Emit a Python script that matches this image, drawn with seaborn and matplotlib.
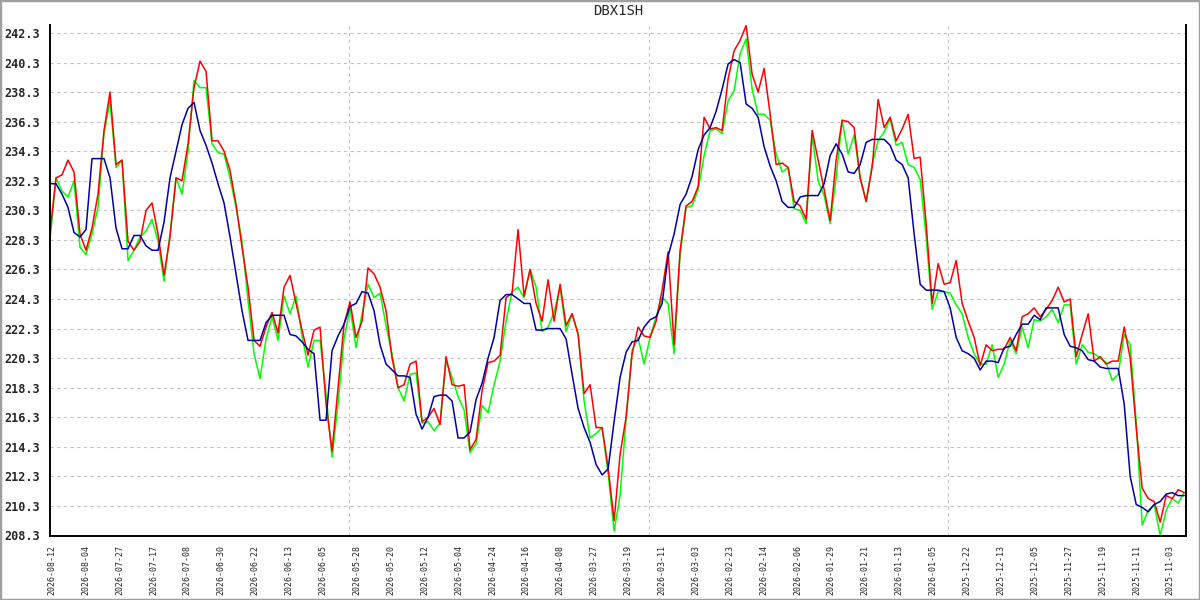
import numpy as np
import pandas as pd
import matplotlib
matplotlib.use('Agg')
import matplotlib.pyplot as plt
import seaborn as sns
from matplotlib.patches import Rectangle

# 图表标题与日期标签（从左到右日期递减）
title = 'DBX1SH'
date_labels = ['2026-08-12', '2026-08-04', '2026-07-27', '2026-07-17', '2026-07-08', '2026-06-30',
               '2026-06-22', '2026-06-13', '2026-06-05', '2026-05-28', '2026-05-20', '2026-05-12',
               '2026-05-04', '2026-04-24', '2026-04-16', '2026-04-08', '2026-03-27', '2026-03-19',
               '2026-03-11', '2026-03-03', '2026-02-23', '2026-02-14', '2026-02-06', '2026-01-29',
               '2026-01-21', '2026-01-13', '2026-01-05', '2025-12-22', '2025-12-13', '2025-12-05',
               '2025-11-27', '2025-11-19', '2025-11-11', '2025-11-03']

# 红线
red_vals = [228.8, 232.5, 232.7, 233.7, 232.9, 228.7, 227.6, 229.1, 231.4, 235.7,
            238.3, 233.4, 233.7, 228.2, 227.6, 228.2, 230.3, 230.8, 228.7, 225.9,
            228.5, 232.5, 232.3, 234.8, 238.6, 240.4, 239.7, 235.0, 235.0, 234.3,
            233.0, 230.7, 227.8, 225.1, 221.5, 221.1, 222.4, 223.4, 222.0, 225.1,
            225.9, 224.0, 222.2, 220.5, 222.2, 222.4, 217.2, 214.0, 218.3, 222.6,
            224.1, 221.7, 222.8, 226.4, 226.0, 225.1, 223.5, 220.3, 218.3, 218.5,
            219.9, 220.1, 216.0, 216.3, 216.9, 215.8, 220.4, 218.5, 218.4, 218.5,
            214.1, 214.8, 218.1, 220.0, 220.1, 220.5, 224.4, 224.7, 229.0, 224.5,
            226.3, 224.0, 222.8, 225.6, 222.8, 225.3, 222.5, 223.3, 221.9, 217.9,
            218.5, 215.6, 215.6, 212.9, 209.3, 213.8, 216.3, 220.6, 222.4, 221.8,
            221.7, 222.8, 224.9, 227.5, 221.2, 227.6, 230.6, 230.9, 231.9, 236.6,
            235.8, 235.9, 235.7, 239.2, 241.1, 241.8, 242.8, 239.5, 238.3, 239.9,
            236.8, 233.4, 233.5, 233.2, 230.9, 230.6, 229.7, 235.7, 233.7, 231.7,
            229.6, 233.7, 236.4, 236.3, 235.9, 232.5, 230.9, 233.2, 237.8, 235.9,
            236.6, 235.0, 235.8, 236.8, 233.8, 233.9, 229.4, 224.0, 226.7, 225.3,
            225.4, 226.9, 224.0, 222.8, 221.7, 219.8, 221.2, 220.8, 220.9, 220.9,
            221.7, 220.8, 223.1, 223.3, 223.7, 223.1, 223.6, 224.2, 225.1, 224.1,
            224.3, 220.4, 221.9, 223.3, 220.1, 220.4, 219.9, 220.1, 220.1, 222.4,
            220.3, 215.6, 211.5, 210.8, 210.6, 209.2, 211.0, 210.8, 211.4, 211.2]

# 绿线
green_vals = [228.3, 232.5, 231.6, 231.2, 232.3, 227.8, 227.3, 228.7, 230.5, 235.5,
              237.7, 233.2, 233.7, 226.9, 227.6, 228.5, 228.9, 229.7, 228.2, 225.5,
              228.7, 232.5, 231.4, 234.3, 239.1, 238.6, 238.6, 234.8, 234.2, 234.1,
              232.5, 230.5, 228.2, 224.2, 220.6, 218.9, 221.6, 223.1, 221.5, 224.5,
              223.3, 224.5, 221.8, 219.7, 221.5, 221.5, 217.9, 213.6, 217.2, 221.6,
              223.7, 221.0, 223.3, 225.3, 224.4, 224.7, 222.5, 220.6, 218.3, 217.4,
              219.2, 219.3, 215.9, 216.0, 215.4, 215.9, 220.1, 219.0, 217.7, 216.8,
              213.9, 214.5, 217.1, 216.6, 218.5, 220.1, 222.8, 224.8, 225.1, 224.4,
              226.3, 225.1, 222.1, 222.4, 223.4, 225.1, 222.1, 223.3, 222.0, 217.4,
              214.9, 215.2, 215.6, 212.5, 208.6, 211.0, 216.2, 220.8, 221.7, 219.9,
              221.7, 223.1, 224.4, 224.0, 220.6, 227.3, 230.5, 230.6, 231.7, 234.0,
              235.7, 235.8, 235.5, 237.7, 238.4, 240.9, 241.9, 238.5, 236.8, 236.8,
              236.4, 234.1, 232.9, 233.2, 230.4, 230.3, 229.4, 235.4, 232.3, 231.3,
              229.4, 232.5, 236.4, 234.1, 235.4, 232.5, 230.9, 233.4, 235.0, 235.6,
              236.5, 234.7, 234.9, 233.4, 233.2, 232.4, 228.5, 223.6, 224.8, 224.8,
              224.7, 223.9, 223.3, 221.7, 220.6, 219.9, 219.9, 221.2, 219.0, 219.9,
              221.5, 220.6, 222.4, 221.0, 222.9, 222.8, 223.1, 223.6, 222.7, 223.9,
              223.9, 219.9, 221.2, 220.7, 220.6, 220.3, 220.0, 218.8, 219.2, 221.9,
              221.2, 216.0, 209.0, 210.0, 210.4, 208.3, 210.0, 210.8, 210.5, 211.2]

# 蓝线
blue_vals = [232.1, 232.1, 231.4, 230.5, 228.8, 228.5, 229.0, 233.8, 233.8, 233.8,
             232.5, 229.1, 227.7, 227.7, 228.6, 228.6, 227.9, 227.6, 227.6, 229.5,
             232.5, 234.3, 236.1, 237.2, 237.6, 235.7, 234.7, 233.5, 232.1, 230.8,
             228.5, 226.0, 223.5, 221.5, 221.5, 221.5, 222.7, 223.2, 223.2, 223.2,
             221.9, 221.8, 221.4, 220.9, 220.6, 216.1, 216.1, 220.8, 221.8, 222.6,
             223.8, 224.0, 224.8, 224.7, 223.5, 221.2, 219.9, 219.5, 219.1, 219.1,
             219.0, 216.5, 215.5, 216.3, 217.7, 217.8, 217.8, 217.4, 214.9, 214.9,
             215.3, 217.5, 218.6, 220.3, 221.7, 224.2, 224.6, 224.6, 224.3, 224.0,
             224.0, 222.2, 222.2, 222.3, 222.3, 222.3, 221.6, 219.2, 216.9, 215.6,
             214.6, 213.1, 212.4, 212.8, 216.0, 219.0, 220.7, 221.4, 221.5, 222.4,
             222.9, 223.1, 224.0, 227.2, 228.7, 230.7, 231.4, 232.6, 234.4, 235.4,
             235.9, 237.0, 238.5, 240.2, 240.5, 240.3, 237.5, 237.2, 236.6, 234.6,
             233.3, 232.3, 230.9, 230.5, 230.5, 231.2, 231.3, 231.3, 231.3, 232.1,
             234.0, 234.8, 234.1, 232.9, 232.8, 233.4, 234.9, 235.1, 235.1, 235.1,
             234.7, 233.7, 233.4, 232.5, 228.7, 225.3, 224.9, 224.9, 224.9, 224.8,
             223.7, 221.7, 220.8, 220.6, 220.3, 219.5, 220.1, 220.1, 220.0, 221.0,
             221.1, 221.9, 222.6, 222.6, 223.2, 222.9, 223.7, 223.7, 223.7, 221.9,
             221.1, 221.0, 220.8, 220.2, 220.1, 219.7, 219.6, 219.6, 219.6, 217.2,
             212.3, 210.4, 210.2, 209.9, 210.4, 210.6, 211.1, 211.2, 211.0, 211.0]


def main():
    df = pd.DataFrame({'idx': np.arange(len(red_vals)),
                       'red': red_vals, 'green': green_vals, 'blue': blue_vals})

    sns.set_style('white')
    plt.rcParams['font.family'] = ['DejaVu Sans Mono']

    fig = plt.figure(figsize=(12, 6), dpi=100)
    ax = fig.add_axes([50 / 1200, 64.5 / 600, 1136 / 1200, 510.5 / 600])

    # 三条线
    sns.lineplot(data=df, x='idx', y='green', color='#00ff00', lw=1.1, ax=ax)
    sns.lineplot(data=df, x='idx', y='red', color='#ff0000', lw=1.1, ax=ax)
    sns.lineplot(data=df, x='idx', y='blue', color='#0000a8', lw=1.1, ax=ax)

    ax.set_xlim(0, 189.3)
    ax.set_ylim(208.3, 242.84)

    # y 轴刻度
    yticks = [208.3 + 2 * k for k in range(18)]
    ax.set_yticks(yticks)
    ax.set_yticklabels([f'{v:.1f}' for v in yticks], fontsize=8.5, fontweight='bold')
    ax.tick_params(axis='y', direction='inout', length=7, width=1, color='black', pad=4)
    ax.grid(axis='y', color='#c4c4c4', linestyle=(0, (3, 3)), lw=0.8)

    # x 轴日期标签
    ax.set_xticks(np.linspace(0.3, 186.7, len(date_labels)))
    ax.set_xticklabels(date_labels, rotation=90, fontsize=6)
    ax.tick_params(axis='x', which='major', length=0, pad=7)
    ax.set_xticks([49.8, 99.8, 149.7], minor=True)
    ax.tick_params(axis='x', which='minor', direction='inout', length=12, width=1.2, color='black')
    ax.grid(axis='x', which='minor', color='#c4c4c4', linestyle=(0, (3, 3)), lw=0.8)

    ax.set_xlabel('')
    ax.set_ylabel('')
    ax.spines['top'].set_visible(False)
    for side in ['left', 'bottom', 'right']:
        ax.spines[side].set_color('black')
        ax.spines[side].set_linewidth(1.4)

    ax.set_title(title, fontsize=10, pad=7)

    # 外框
    fig.add_artist(Rectangle((0, 0), 1, 1, transform=fig.transFigure, fill=False,
                             edgecolor='#a0a0a0', lw=2.5))

    fig.savefig('out.png', dpi=100)


if __name__ == '__main__':
    main()
